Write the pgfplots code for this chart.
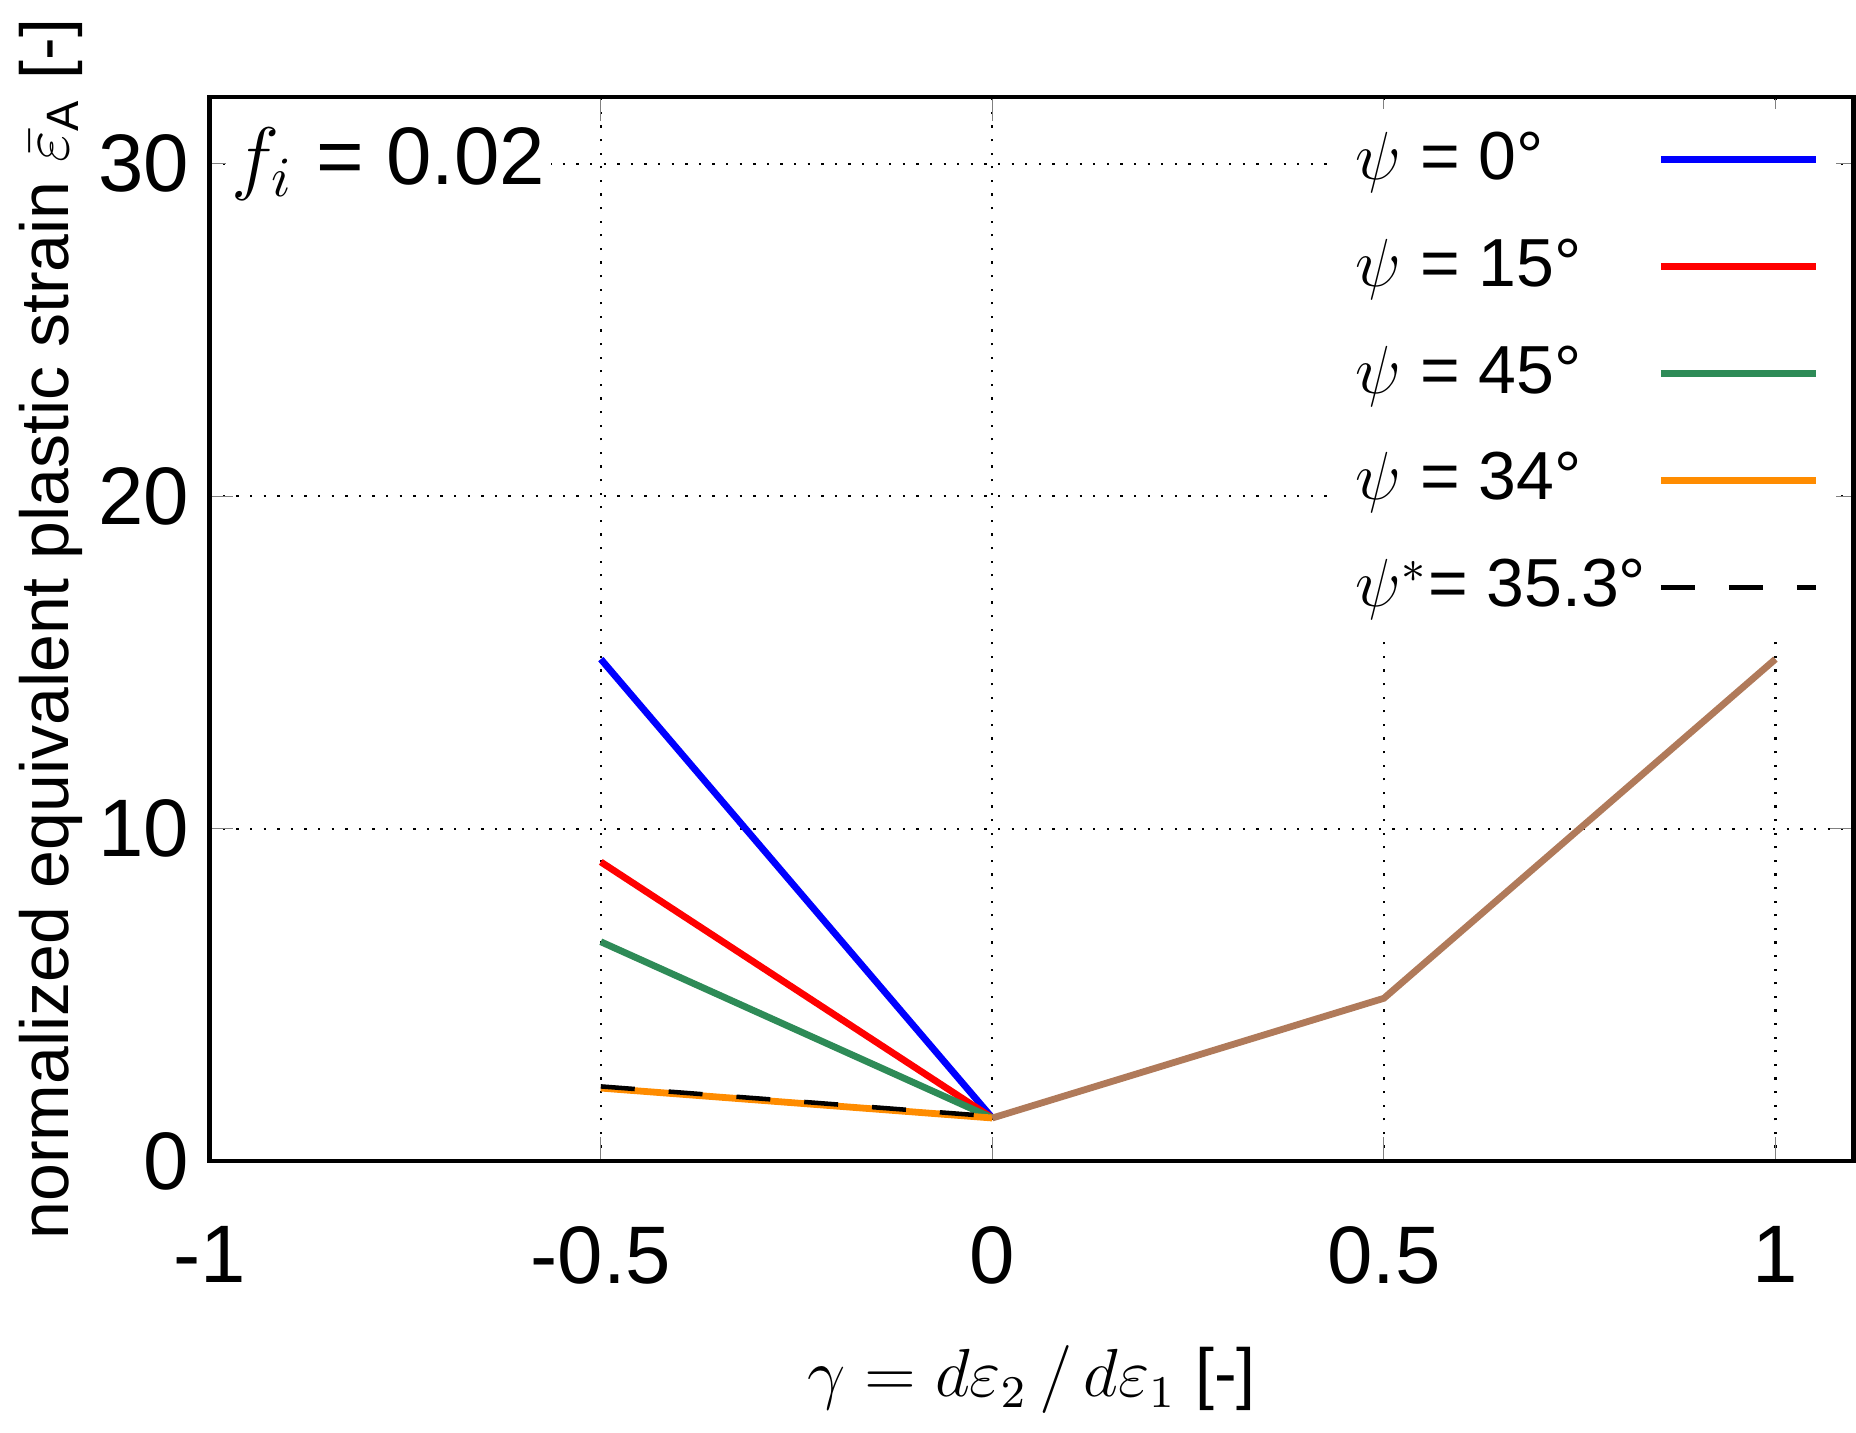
\documentclass[border=0pt]{standalone}
\usepackage{pgfplots}
\pgfplotsset{compat=1.18}
\usepackage{fontspec}
\setmainfont{Liberation Sans}
\begin{document}
\begin{tikzpicture}
\begin{axis}[
  width=10.2cm, height=6.6cm, scale only axis,
  xmin=-1, xmax=1.1, ymin=0, ymax=32,
  xtick={-1,-0.5,0,0.5,1}, ytick={0,10,20,30},
  xticklabels={-1,-0.5,0,0.5,1},
  /pgf/number format/assume math mode=true,
  tick label style={font=\Large},
  xticklabel style={yshift=-8pt},
  label style={font=\large},
  ylabel style={yshift=-4pt},
  xlabel style={yshift=-4pt},
  grid=major, major grid style={black, dotted, thin},
  tick align=inside, axis line style={thick},
  xlabel={$\gamma = d\varepsilon_2 \,/\, d\varepsilon_1$ [-]},
  ylabel={normalized equivalent plastic strain $\bar{\varepsilon}_{\mathrm{A}}$ [-]},
  legend plot pos=right,
  legend cell align=left,
  legend style={draw=none, fill=white, font=\large, row sep=5pt, at={(0.99,0.99)}, anchor=north east},
  legend image post style={xscale=1.6},
]
\addplot[blue, very thick] coordinates {(-0.5,15.1) (0,1.3)};
\addlegendentry{$\psi$ = 0°}
\addplot[red, very thick] coordinates {(-0.5,9.0) (0,1.3)};
\addlegendentry{$\psi$ = 15°}
\addplot[color={rgb,255:red,46;green,139;blue,87}, very thick] coordinates {(-0.5,6.6) (0,1.3)};
\addlegendentry{$\psi$ = 45°}
\addplot[color={rgb,255:red,255;green,140;blue,0}, very thick] coordinates {(-0.5,2.2) (0,1.3)};
\addlegendentry{$\psi$ = 34°}
\addplot[black, thick, dashed, dash pattern=on 6pt off 6pt] coordinates {(-0.5,2.25) (0,1.35)};
\addlegendentry{$\psi^{*}$= 35.3°}
\addplot[color={rgb,255:red,176;green,122;blue,90}, very thick, forget plot] coordinates {(0,1.3) (0.5,4.9) (1,15.1)};
\node[anchor=north west, font=\Large, fill=white, inner sep=1pt] at (axis cs:-0.98,31.3) {$f_i$ = 0.02};
\end{axis}
\end{tikzpicture}
\end{document}
